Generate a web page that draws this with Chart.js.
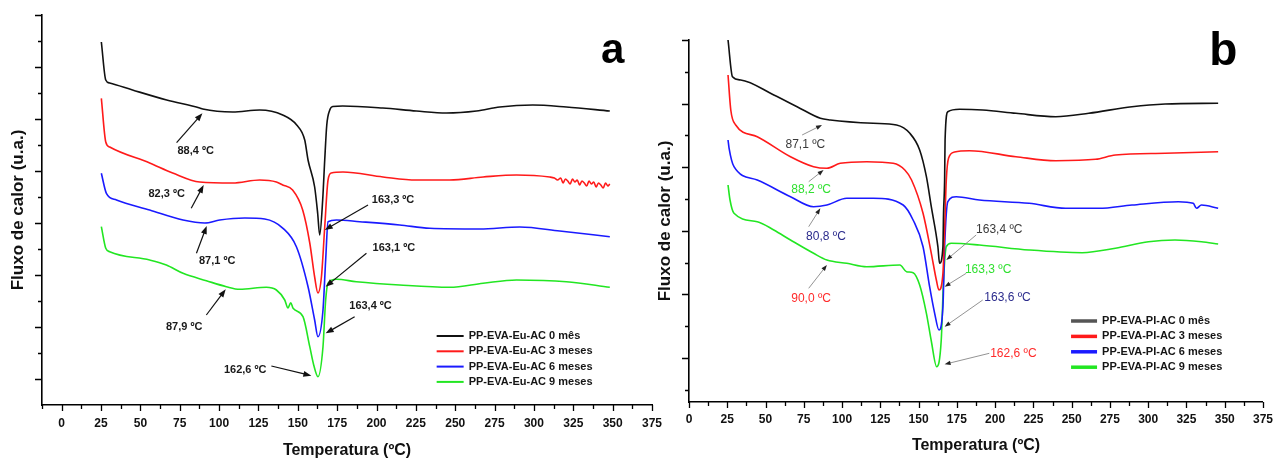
<!DOCTYPE html>
<html>
<head>
<meta charset="utf-8">
<script src="https://cdn.jsdelivr.net/npm/chart.js@4/dist/chart.umd.min.js"></script>
<style>
html, body { margin: 0; padding: 0; background: #fff; }
#wrap { position: relative; width: 1283px; height: 460px; }
canvas { position: absolute; left: 0; top: 0; }
</style>
</head>
<body>
<div id="wrap">
  <canvas id="chartA" width="1283" height="460"></canvas>
  <canvas id="chartB" width="1283" height="460"></canvas>
</div>
<script>
// ======================
// DATA - PANEL a (PP-EVA-Eu-AC)
// ======================
const labelsA = ["PP-EVA-Eu-AC 0 mês", "PP-EVA-Eu-AC 3 meses", "PP-EVA-Eu-AC 6 meses", "PP-EVA-Eu-AC 9 meses"];

const tempA0 = [25.2, 28, 30.5, 45, 66.7, 87.7, 89.6, 108.6, 125.8, 140.4, 149.3, 154.4, 156.5, 160.7, 162.6, 163.9, 165.8, 167.1, 168.4, 170.3, 172.2, 178.5, 204, 225.3, 244.4, 263.5, 278.3, 299.2, 320.6, 348.2];
const fluxA0 = [363, 325, 322, 315, 305, 297, 296, 293, 295, 290, 280, 265, 245, 218, 192, 170, 205, 245, 280, 295, 298.5, 299, 297, 294, 292, 294, 298, 300, 298, 294];

const tempA3 = [25.2, 28, 30.5, 55.9, 70.5, 87.7, 108.6, 125.8, 136.4, 140.4, 146.7, 153.1, 157.6, 160.7, 162.8, 165, 167.1, 169.2, 171.3, 178.7, 204.1, 225.3, 246.5, 267.7, 288.9, 310, 313, 315, 317, 318.5, 320, 321.5, 323, 324.5, 326, 327.5, 329, 330.5, 332, 333.5, 335, 336.5, 338, 339.5, 341, 342.5, 344, 345.5, 347, 348.2];
const fluxA3 = [306.7, 263, 258, 242, 232, 223, 222, 225, 223, 220, 215, 195, 162, 128, 112, 128, 178, 225, 232, 233, 228, 225, 225, 228, 230, 228, 227, 225, 227, 222, 226, 224, 221, 226, 223, 225, 220, 224, 222, 219, 224, 221, 223, 218, 222, 220, 217, 222, 219, 221];

const tempA6 = [25.2, 28.4, 34.8, 55.9, 77.1, 90.9, 100.4, 116.3, 129, 140.6, 149.1, 156.5, 160.7, 162.8, 166, 167.7, 169.2, 174.5, 189.3, 214.7, 233.8, 265.6, 291, 316.4, 348.2];
const fluxA6 = [231.7, 211.7, 205, 195, 185, 182, 185, 187, 186, 176.7, 158.3, 118.3, 85, 68.3, 95, 145, 183.3, 185, 183.3, 180, 176.7, 176, 178, 174, 168.3];

const tempA9 = [25.2, 28, 30.5, 55.9, 66.5, 77.1, 91.9, 104.6, 113.1, 130, 136.4, 141.7, 143.8, 145.5, 147, 153.3, 157.6, 160.1, 162.8, 166, 167.7, 169.2, 174.5, 187.2, 214.7, 246.5, 267.7, 288.9, 320.6, 348.2];
const fluxA9 = [178.3, 156.7, 153.3, 145, 140, 131.7, 124.3, 118.3, 115.7, 117.7, 115, 105, 97, 102.3, 96.7, 88.3, 58.3, 40, 28.3, 58.3, 105, 121.7, 125.7, 123.3, 120, 117.7, 121.7, 125, 123.3, 117.7];

// annotations: text position, arrow tail, arrow tip (temperature, flux)
const notesA = [
    { text: "88,4 ºC",  at: [85.1, 254],  from: [73, 262.3],   to: [89.4, 291.7] },
    { text: "82,3 ºC",  at: [66.7, 211],  from: [82.3, 196.7], to: [90.2, 220] },
    { text: "87,1 ºC",  at: [98.8, 144.3], from: [85.6, 151.7], to: [92.1, 179] },
    { text: "87,9 ºC",  at: [77.8, 78.3], from: [91.9, 90],    to: [104.2, 115.7] },
    { text: "162,6 ºC", at: [116.6, 35],  from: [133.2, 39],   to: [158.6, 29.3] },
    { text: "163,3 ºC", at: [210.5, 205], from: [194.6, 200],  to: [167.1, 175] },
    { text: "163,1 ºC", at: [211, 156.7], from: [193.6, 151.7], to: [167.7, 118.3] },
    { text: "163,4 ºC", at: [196.2, 99.3], from: [186.1, 88.3], to: [167.7, 71.7] }
];

// ======================
// DATA - PANEL b (PP-EVA-PI-AC)
// ======================
const labelsB = ["PP-EVA-PI-AC 0 mês", "PP-EVA-PI-AC 3 meses", "PP-EVA-PI-AC 6 meses", "PP-EVA-PI-AC 9 meses"];

const tempB0 = [25.5, 28.4, 33.8, 55.4, 70.6, 85.8, 92.3, 120.4, 135.6, 144.3, 150.7, 155.1, 158.3, 162.6, 163.7, 165.9, 166.3, 167, 167.3, 169.1, 176.7, 191.9, 213.6, 239.6, 261.2, 289.4, 311.1, 345.7];
const fluxB0 = [362, 325.3, 322, 307, 295.3, 283.7, 282, 278.7, 277, 268.7, 252, 225.3, 195.3, 155.3, 138.7, 155.3, 189, 222, 262, 290.3, 292.7, 292, 288.7, 285.3, 288.7, 295.3, 298, 298.7];

const tempB3 = [25.5, 27.3, 30.5, 44.6, 66.3, 81.4, 90.1, 98.8, 116.1, 133.4, 141, 145.4, 152.9, 158.3, 161.6, 163.3, 165.9, 167, 168.1, 169.6, 173.5, 183.2, 213.6, 239.6, 265.6, 278.6, 311.1, 345.7];
const fluxB3 = [327, 292, 277, 265.3, 245.3, 235.3, 233.7, 238.7, 240.3, 238.7, 232, 222, 188.7, 148.7, 122, 112, 128.7, 172, 222, 244, 250, 251.3, 245.3, 241.3, 242.7, 247, 248.7, 250.3];

const tempB6 = [25.5, 26.2, 29.4, 44.6, 66.3, 81.4, 90.1, 103.1, 120.4, 139.9, 146.4, 152.9, 157.2, 160.5, 163.3, 165.9, 167, 169.1, 174.6, 189.7, 222.2, 246.1, 267.7, 289.4, 319.7, 329.4, 331.6, 334.8, 345.7];
const fluxB6 = [262, 253.7, 235.3, 222, 205.3, 195.3, 197, 203.7, 203.7, 197, 182, 155.3, 115.3, 88.7, 72, 95.3, 155.3, 200.3, 205.3, 202, 198.7, 193.7, 193.7, 197, 200.3, 198.7, 193.7, 197, 193.7];

const tempB9 = [25.5, 26.8, 29.4, 44.6, 55.4, 66.3, 81.4, 90.1, 103.1, 116.1, 137.8, 142.1, 146.4, 150.7, 155.1, 158.3, 161.8, 164.8, 166.3, 168.1, 171.3, 189.7, 222.2, 256.9, 278.6, 300.2, 317.5, 334.8, 345.7];
const fluxB9 = [217, 202, 188.7, 180.3, 172, 162, 148.7, 142, 138.7, 135.3, 137, 130.3, 129.3, 117, 88.7, 61, 35.3, 62, 122, 155.3, 158.7, 157, 152, 149.3, 153.7, 160.3, 162, 160.3, 158];

const notesB = [
    { text: "87,1 ºC",  color: "#3a3a3a", at: [76, 257],     from: [73.9, 267],   to: [86.9, 277] },
    { text: "88,2 ºC",  color: "#30e030", at: [79.8, 212],   from: [78.2, 220.3], to: [87.9, 232] },
    { text: "80,8 ºC",  color: "#2b2b8c", at: [89.5, 165.3], from: [78.2, 175.3], to: [85.8, 193.7] },
    { text: "90,0 ºC",  color: "#ff2a2a", at: [79.8, 103],   from: [78.2, 113.7], to: [90.1, 137] },
    { text: "163,4 ºC", color: "#3a3a3a", at: [202.7, 172.7], from: [187.6, 167], to: [168.1, 142] },
    { text: "163,3 ºC", color: "#30e030", at: [195.4, 132],  from: [181.1, 128.7], to: [167, 115.3] },
    { text: "163,6 ºC", color: "#2b2b8c", at: [208.1, 104.7], from: [191.9, 102], to: [167, 75.3] },
    { text: "162,6 ºC", color: "#ff2a2a", at: [211.9, 48.7], from: [196.2, 48.7], to: [167, 37.7] }
];

const COLORS = ["#111111", "#ff1a1a", "#1a1aff", "#22e622"];
const FONT = "'Liberation Sans', Arial, sans-serif";


// ======================
// HELPERS
// ======================
function pairs(t, f) {
    return t.map((x, i) => ({ x: x, y: f[i] }));
}

function makeSet(label, t, f, color, legendColor) {
    return {
        label: label,
        data: pairs(t, f),
        borderColor: color,
        legendColor: legendColor || color,
        borderWidth: 1.6,
        pointRadius: 0,
        fill: false,
        cubicInterpolationMode: "monotone"
    };
}

function drawArrow(ctx, x1, y1, x2, y2, head, wid) {
    const a = Math.atan2(y2 - y1, x2 - x1);
    ctx.beginPath();
    ctx.moveTo(x1, y1);
    ctx.lineTo(x2 - Math.cos(a) * head * 0.8, y2 - Math.sin(a) * head * 0.8);
    ctx.stroke();
    ctx.beginPath();
    ctx.moveTo(x2, y2);
    ctx.lineTo(x2 - head * Math.cos(a) + wid * Math.sin(a), y2 - head * Math.sin(a) - wid * Math.cos(a));
    ctx.lineTo(x2 - head * Math.cos(a) - wid * Math.sin(a), y2 - head * Math.sin(a) + wid * Math.cos(a));
    ctx.closePath();
    ctx.fill();
}


// ======================
// PLUGINS
// ======================
// tick marks: long at major, short at minor, outside the axes
function tickPlugin(cfg) {
    return {
        id: "tickMarks",
        afterDraw(chart) {
            const ctx = chart.ctx, xs = chart.scales.x, ys = chart.scales.y;
            ctx.save();
            ctx.strokeStyle = "#000";
            ctx.lineWidth = 1.3;
            ctx.beginPath();
            xs.ticks.forEach(t => {
                const px = Math.round(xs.getPixelForValue(t.value)) + 0.5;
                const len = t.value % 25 === 0 ? 6 : 4;
                ctx.moveTo(px, xs.top);
                ctx.lineTo(px, xs.top + len);
            });
            cfg.yTicks.forEach(t => {
                const py = Math.round(ys.getPixelForValue(t.v)) + 0.5;
                const len = t.major ? 7 : 4;
                ctx.moveTo(ys.right, py);
                ctx.lineTo(ys.right - len, py);
            });
            ctx.stroke();
            ctx.restore();
        }
    };
}

// text labels with arrows + panel letter
function notePlugin(cfg) {
    return {
        id: "notes",
        afterDatasetsDraw(chart) {
            const ctx = chart.ctx, xs = chart.scales.x, ys = chart.scales.y;
            const px = p => [xs.getPixelForValue(p[0]), ys.getPixelForValue(p[1])];
            ctx.save();
            ctx.textAlign = "center";
            ctx.textBaseline = "middle";
            cfg.notes.forEach(n => {
                const a = px(n.from), b = px(n.to), c = px(n.at);
                ctx.strokeStyle = cfg.arrowColor;
                ctx.fillStyle = cfg.headColor;
                ctx.lineWidth = cfg.arrowWidth;
                drawArrow(ctx, a[0], a[1], b[0], b[1], cfg.head, cfg.headWid);
                ctx.fillStyle = n.color || cfg.textColor;
                ctx.font = cfg.font;
                ctx.fillText(n.text, c[0], c[1]);
            });
            const l = px(cfg.letterAt);
            ctx.fillStyle = "#000";
            ctx.font = cfg.letterFont;
            ctx.fillText(cfg.letter, l[0], l[1]);
            ctx.restore();
        }
    };
}

// legend inside the plot
function legendPlugin(cfg) {
    return {
        id: "innerLegend",
        afterDatasetsDraw(chart) {
            const ctx = chart.ctx, xs = chart.scales.x, ys = chart.scales.y;
            const x0 = xs.getPixelForValue(cfg.at[0]);
            const y0 = ys.getPixelForValue(cfg.at[1]);
            ctx.save();
            ctx.textAlign = "left";
            ctx.textBaseline = "middle";
            ctx.font = "bold 11px " + FONT;
            chart.data.datasets.forEach((ds, i) => {
                const y = y0 + i * cfg.gap;
                ctx.strokeStyle = ds.legendColor;
                ctx.lineWidth = cfg.lineWidth;
                ctx.beginPath();
                ctx.moveTo(x0, y);
                ctx.lineTo(x0 + cfg.len, y);
                ctx.stroke();
                ctx.fillStyle = "#151515";
                ctx.fillText(ds.label, x0 + cfg.len + 5, y);
            });
            ctx.restore();
        }
    };
}


// ======================
// CHART BUILDER
// ======================
function buildChart(id, p) {
    return new Chart(document.getElementById(id), {
        type: "line",
        data: { datasets: p.datasets },
        options: {
            responsive: false,
            animation: false,
            devicePixelRatio: 1,
            events: [],
            layout: { padding: p.padding },
            plugins: { legend: { display: false }, tooltip: { enabled: false } },
            scales: {
                x: {
                    type: "linear",
                    min: p.xMin,
                    max: 375,
                    afterFit: s => { s.height = p.xHeight; },
                    ticks: {
                        stepSize: 12.5,
                        autoSkip: false,
                        maxRotation: 0,
                        minRotation: 0,
                        padding: p.xTickPad,
                        color: "#111",
                        font: { family: FONT, size: 12, weight: "bold" },
                        callback: v => (v % 25 === 0 ? String(v) : "")
                    },
                    grid: { display: false, drawTicks: false },
                    border: { display: true, color: "#000", width: 1.6 },
                    title: {
                        display: true,
                        text: "Temperatura (ºC)",
                        color: "#111",
                        font: { family: FONT, size: 16, weight: "bold" },
                        padding: { top: 0, bottom: p.xTitlePad }
                    }
                },
                y: {
                    type: "linear",
                    min: 0,
                    max: p.yMax,
                    afterFit: s => { s.width = p.yWidth; },
                    ticks: { display: false },
                    grid: { display: false, drawTicks: false },
                    border: { display: true, color: "#000", width: 1.6 },
                    title: {
                        display: true,
                        text: "Fluxo de calor (u.a.)",
                        color: "#111",
                        font: { family: FONT, size: 17, weight: "bold" },
                        padding: { top: p.yTitlePad, bottom: 0 }
                    }
                }
            }
        },
        plugins: [tickPlugin(p.ticks), legendPlugin(p.legend), notePlugin(p.notes)]
    });
}


// ======================
// PANEL a
// ======================
const yTicksA = [];
for (let k = 1; k <= 15; k++) yTicksA.push({ v: k * 26, major: k % 2 === 1 });

buildChart("chartA", {
    datasets: [
        makeSet(labelsA[0], tempA0, fluxA0, COLORS[0]),
        makeSet(labelsA[1], tempA3, fluxA3, COLORS[1]),
        makeSet(labelsA[2], tempA6, fluxA6, COLORS[2]),
        makeSet(labelsA[3], tempA9, fluxA9, COLORS[3])
    ],
    padding: { left: 0, top: 15, right: 631, bottom: 0 },
    xMin: -12.5,
    yMax: 390,
    xHeight: 55,
    yWidth: 42,
    xTickPad: 11,
    xTitlePad: 0,
    yTitlePad: 8,
    ticks: { yTicks: yTicksA },
    legend: { at: [238.2, 69], gap: 15.3, len: 27, lineWidth: 2 },
    notes: {
        notes: notesA, font: "bold 11px " + FONT, textColor: "#1a1a1a",
        arrowColor: "#111", headColor: "#111", arrowWidth: 1.2, head: 8, headWid: 3,
        letter: "a", letterAt: [350, 354],
        letterFont: "bold 42px 'Liberation Sans Narrow', 'Liberation Sans', Arial, sans-serif"
    }
});


// ======================
// PANEL b
// ======================
const yTicksB = [];
for (let k = 0; k <= 11; k++) yTicksB.push({ v: 362 - k * 31.8, major: k % 2 === 0 });

buildChart("chartB", {
    datasets: [
        makeSet(labelsB[0], tempB0, fluxB0, COLORS[0], "#555555"),
        makeSet(labelsB[1], tempB3, fluxB3, COLORS[1]),
        makeSet(labelsB[2], tempB6, fluxB6, COLORS[2]),
        makeSet(labelsB[3], tempB9, fluxB9, COLORS[3])
    ],
    padding: { left: 649, top: 40, right: 18, bottom: 0 },
    xMin: 0,
    yMax: 362,
    xHeight: 58,
    yWidth: 40,
    xTickPad: 10,
    xTitlePad: 5,
    yTitlePad: 6,
    ticks: { yTicks: yTicksB },
    legend: { at: [249.6, 81], gap: 15.4, len: 26, lineWidth: 3.5 },
    notes: {
        notes: notesB, font: "12px " + FONT, textColor: "#333",
        arrowColor: "#777", headColor: "#222", arrowWidth: 0.8, head: 6, headWid: 2.2,
        letter: "b", letterAt: [349, 350],
        letterFont: "bold 46px 'Liberation Sans Narrow', 'Liberation Sans', Arial, sans-serif"
    }
});
</script>
</body>
</html>
